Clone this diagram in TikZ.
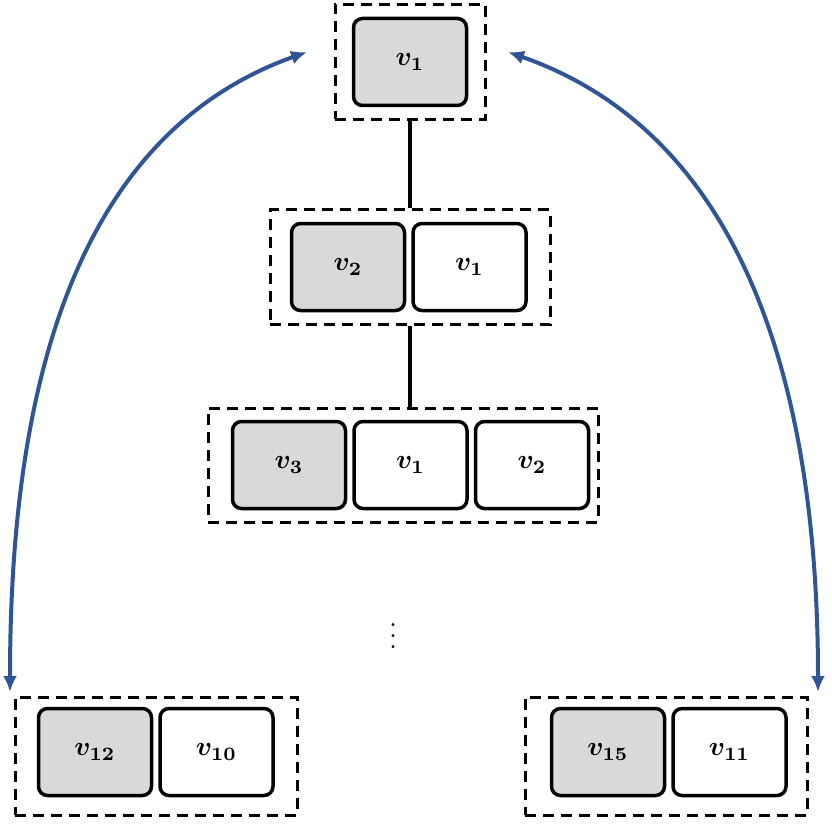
\documentclass[tikz,border=0pt]{standalone}
\usepackage{amsmath,bm,graphicx}
\usetikzlibrary{positioning,arrows.meta}
\definecolor{arrowblue}{RGB}{47,85,151}
\newcommand{\lbl}[1]{\scalebox{2.7}{$\bm{#1}$}}
\tikzset{
  cell/.style={draw, line width=3.5pt, rounded corners=9pt, minimum width=113pt,
    minimum height=87pt, inner sep=0pt},
  head/.style={cell, fill=gray!30},
  group/.style={draw, dashed, line width=3pt, dash pattern=on 11pt off 7pt, inner sep=0pt},
  link/.style={line width=3.5pt},
  jump/.style={line width=4pt, color=arrowblue, {Latex[length=16pt,width=14pt]}-{Latex[length=16pt,width=14pt]}}
}
\begin{document}
\begin{tikzpicture}[x=1pt,y=-1pt]
  \useasboundingbox (0,0) rectangle (832,829);
  % nivel 1
  \node[group, minimum width=150pt, minimum height=115pt] (g1) at (410,62) {};
  \node[head] (a1) at (410,62) {\lbl{v_1}};
  % nivel 2
  \node[group, minimum width=280pt, minimum height=115pt] (g2) at (410,267) {};
  \node[head] (b2) at (348,267) {\lbl{v_2}};
  \node[cell, right=5pt of b2] (b1) {\lbl{v_1}};
  % nivel 3
  \node[group, minimum width=390pt, minimum height=114pt] (g3) at (403,465) {};
  \node[head] (c3) at (289,465) {\lbl{v_3}};
  \node[cell, right=5pt of c3] (c1) {\lbl{v_1}};
  \node[cell, right=5pt of c1] (c2) {\lbl{v_2}};
  % puntos
  \node (dots) at (393,628) {\scalebox{2.7}{$\vdots$}};
  % grupos de abajo
  \node[group, minimum width=282pt, minimum height=118pt] (gl) at (156,756) {};
  \node[head] (l12) at (95,752) {\lbl{v_{12}}};
  \node[cell, right=5pt of l12] (l10) {\lbl{v_{10}}};
  \node[group, minimum width=282pt, minimum height=118pt] (gr) at (666,756) {};
  \node[head] (r15) at (608,752) {\lbl{v_{15}}};
  \node[cell, right=5pt of r15] (r11) {\lbl{v_{11}}};
  % lineas
  \draw[link] (g1.south) -- (g2.north);
  \draw[link] (g2.south) -- (g3.north -| g2.south);
  % flechas azules
  \coordinate (pl) at (307,52);
  \coordinate (pr) at (508,52);
  \coordinate (ql) at (10,692);
  \coordinate (qr) at (818,692);
  \draw[jump] (pl) .. controls (60,140) and (10,420) .. (ql);
  \draw[jump] (pr) .. controls (760,140) and (818,420) .. (qr);
\end{tikzpicture}
\end{document}
